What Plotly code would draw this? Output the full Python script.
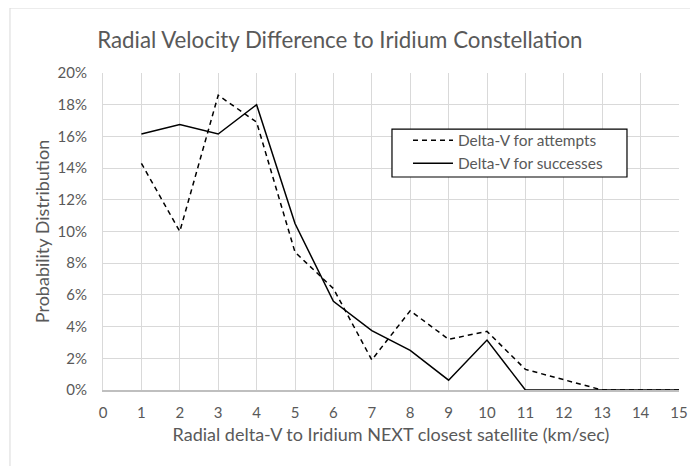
import plotly.graph_objects as go

x_vals = list(range(0, 16))
attempts_x = [1, 2, 3, 4, 5, 6, 7, 8, 9, 10, 11, 12, 13, 14, 15]
attempts = [14.3, 10.0, 18.6, 16.9, 8.7, 6.4, 1.9, 5.0, 3.2, 3.7, 1.3, 0.65, 0.0, 0.0, 0.0]
successes_x = [1, 2, 3, 4, 5, 6, 7, 8, 9, 10, 11, 12, 13, 14, 15]
successes = [16.15, 16.75, 16.15, 18.0, 10.5, 5.6, 3.75, 2.5, 0.62, 3.15, 0.0, 0.0, 0.0, 0.0, 0.0]
y_ticks = [0, 2, 4, 6, 8, 10, 12, 14, 16, 18, 20]
y_labels = [f"{v}%" for v in y_ticks]

FONT = "Lato, 'Open Sans', sans-serif"
GRAY = "#595959"

fig = go.Figure()
fig.add_trace(go.Scatter(x=attempts_x, y=attempts, mode="lines", name="Delta-V for attempts",
                         line=dict(color="black", width=1.5, dash="5px,4px")))
fig.add_trace(go.Scatter(x=successes_x, y=successes, mode="lines", name="Delta-V for successes",
                         line=dict(color="black", width=1.5)))

fig.update_layout(
    width=690, height=458,
    margin=dict(l=95, r=19, t=65, b=76, autoexpand=False),
    paper_bgcolor="white", plot_bgcolor="white",
    font=dict(family=FONT, color=GRAY, size=15),
    title=dict(text="Radial Velocity Difference to Iridium Constellation",
               x=0.481, xanchor="center", y=0.930, yanchor="middle",
               font=dict(size=22.3, color=GRAY, family=FONT)),
    xaxis=dict(range=[0, 15], tickmode="array", tickvals=x_vals, ticktext=[str(v) for v in x_vals],
               showgrid=True, gridcolor="#d9d9d9", gridwidth=1, zeroline=False,
               showline=True, linecolor="#bfbfbf", linewidth=1.5,
               ticks="outside", ticklen=8, tickcolor="rgba(0,0,0,0)",
               tickfont=dict(size=15, color=GRAY),
               title=dict(text="Radial delta-V to Iridium NEXT closest satellite (km/sec)",
                          font=dict(size=18, color=GRAY), standoff=9)),
    yaxis=dict(range=[0, 20], tickmode="array", tickvals=y_ticks, ticktext=y_labels,
               showgrid=True, gridcolor="#d9d9d9", gridwidth=1, zeroline=False,
               showline=True, linecolor="#d9d9d9", linewidth=1,
               ticks="outside", ticklen=12, tickcolor="rgba(0,0,0,0)",
               tickfont=dict(size=15, color=GRAY),
               title=dict(text="Probability Distribution", font=dict(size=18, color=GRAY), standoff=3)),
    legend=dict(x=0.5295, y=0.84, xanchor="left", yanchor="top",
                bgcolor="rgba(0,0,0,0)", borderwidth=0, itemwidth=40,
                font=dict(size=15.4, color=GRAY), tracegroupgap=2),
    showlegend=True,
    shapes=[
        dict(type="rect", xref="paper", yref="paper",
             x0=-0.1615, x1=1.2, y0=-0.5, y1=1.205,
             line=dict(color="#d9d9d9", width=1), layer="below"),
        dict(type="rect", xref="paper", yref="paper",
             x0=0.5017, x1=0.9097, y0=0.672, y1=0.823,
             line=dict(color="black", width=1.2), fillcolor="white", layer="above"),
    ],
)

fig.write_html("out.html")
